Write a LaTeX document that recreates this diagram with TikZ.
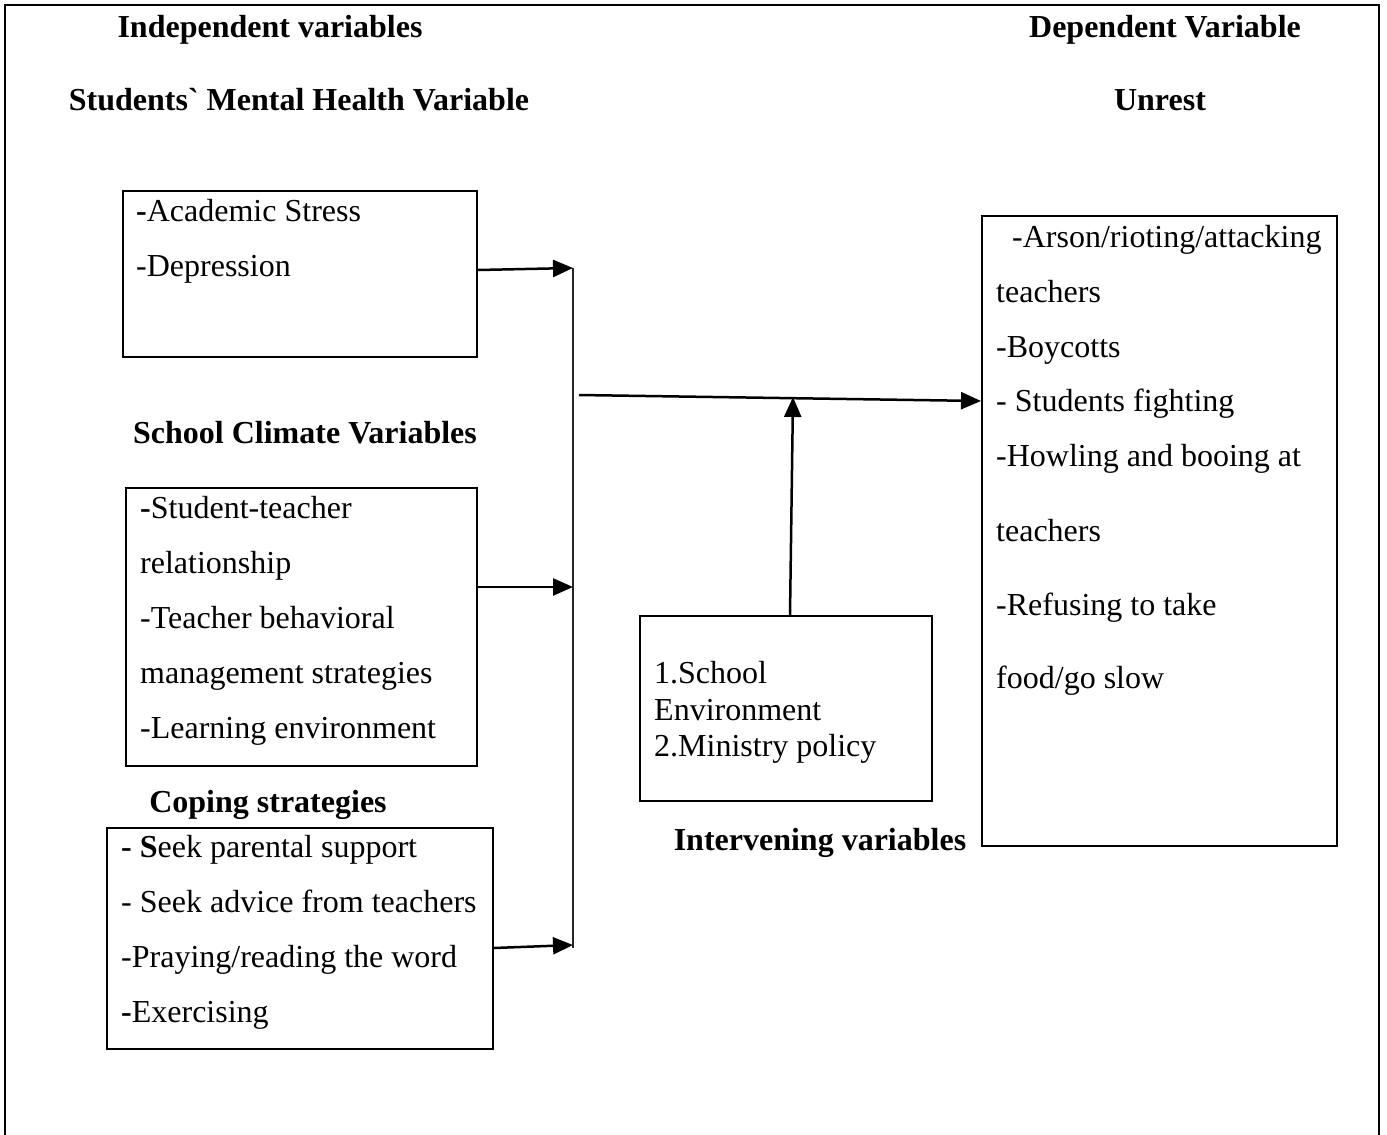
\documentclass[tikz,border=0pt]{standalone}
\usepackage{fontspec}
\setmainfont{Liberation Serif}[Ligatures=TeXOff]
\usetikzlibrary{arrows.meta}
\tikzset{
  box/.style={draw, line width=2pt, inner sep=0pt},
  txt/.style={anchor=base west, inner sep=0pt, font=\fontsize{32}{38}\selectfont},
  head/.style={anchor=base, inner sep=0pt, font=\fontsize{32}{38}\selectfont\bfseries},
  arr/.style={line width=2.5pt, -{Triangle[length=20pt,width=17pt]}},
  frame/.style={line width=2pt},
  spine/.style={line width=1.3pt, black!85}
}
\begin{document}
\begin{tikzpicture}[x=1pt,y=-1pt]
\useasboundingbox (0,0) rectangle (1387,1135);
% outer frame
\draw[frame] (5,1140) -- (5,5) -- (1379,5) -- (1379,1140);

% headings
\node[head] (hind) at (270,37) {Independent variables};
\node[head] (hdep) at (1165,37) {Dependent Variable};
\node[head] (hmh) at (299,110) {Students` Mental Health Variable};
\node[head] (hun) at (1160,110) {Unrest};
\node[head] (hsc) at (305,443) {School Climate Variables};
\node[head] (hcop) at (268,812) {Coping strategies};
\node[head] (hint) at (820,850) {Intervening variables};

% boxes
\node[box, minimum width=354pt, minimum height=166pt] (b1) at (300,274) {};
\node[box, minimum width=351pt, minimum height=278pt] (b2) at (301.5,627) {};
\node[box, minimum width=386pt, minimum height=221pt] (b3) at (300,938.5) {};
\node[box, minimum width=292pt, minimum height=185pt] (int) at (786,708.5) {};
\node[box, minimum width=355pt, minimum height=630pt] (dep) at (1159.5,531) {};

% box 1 text
\node[txt] (b1a) at (136,221) {\textbf{-}Academic Stress};
\node[txt] (b1b) at (136,276) {-Depression};

% box 2 text
\node[txt] (b2a) at (140,518) {\textbf{-}Student-teacher};
\node[txt] (b2b) at (140,573) {relationship};
\node[txt] (b2c) at (140,628) {-Teacher behavioral};
\node[txt] (b2d) at (140,683) {management strategies};
\node[txt] (b2e) at (140,738) {-Learning environment};

% box 3 text
\node[txt] (b3a) at (121,857) {\textbf{- S}eek parental support};
\node[txt] (b3b) at (121,912) {- Seek advice from teachers};
\node[txt] (b3c) at (121,967) {-Praying/reading the word};
\node[txt] (b3d) at (121,1022) {\textbf{-}Exercising};

% intervening text
\node[txt] (ia) at (654,683) {1.School};
\node[txt] (ib) at (654,720) {Environment};
\node[txt] (ic) at (654,756) {2.Ministry policy};

% dependent text
\node[txt] (d1) at (1012,247) {-Arson/rioting/attacking};
\node[txt] (d2) at (996,302) {teachers};
\node[txt] (d3) at (996,357) {-Boycotts};
\node[txt] (d4) at (996,411) {- Students fighting};
\node[txt] (d5) at (996,466) {-Howling and booing at};
\node[txt] (d6) at (996,541) {teachers};
\node[txt] (d7) at (996,615) {-Refusing to take};
\node[txt] (d8) at (996,688) {food/go slow};

% connectors
\coordinate (v1) at (573,268);
\coordinate (v2) at (573,587);
\coordinate (v3) at (573,945);
\coordinate (vb) at (573,948);
\draw[spine] (v1) -- (vb);
\draw[arr] (b1.east |- 0,270) -- (v1);
\draw[arr] (b2.east |- v2) -- (v2);
\draw[arr] (b3.east |- 0,948) -- (v3);

\coordinate (ms) at (579,395);
\coordinate (me) at (900,401);
\draw[arr] (ms) -- (dep.west |- me);
\coordinate (mid) at (793,397);
\draw[arr] (int.north -| 790,0) -- (mid);
\end{tikzpicture}
\end{document}
